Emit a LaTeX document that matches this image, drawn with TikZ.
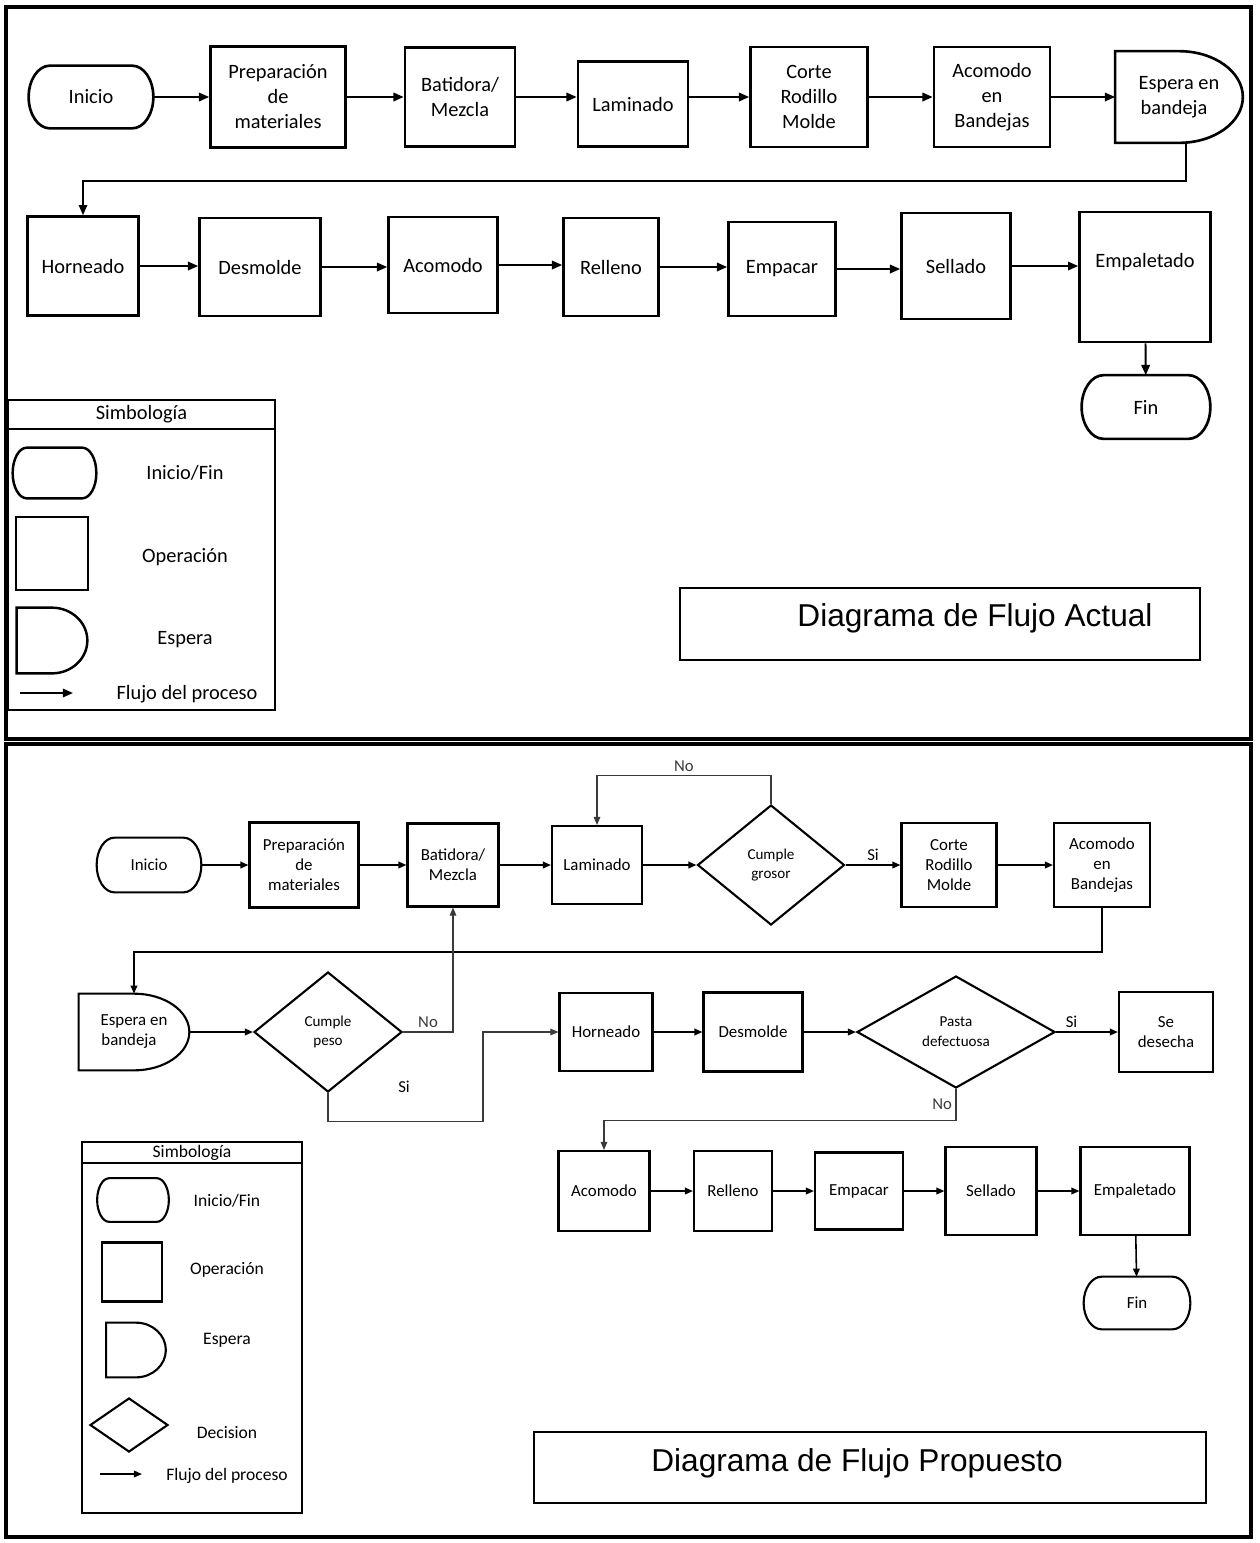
\documentclass[tikz,border=0pt]{standalone}
\usepackage{fontspec}
\setmainfont{Carlito}
\newfontfamily\arialf{Liberation Sans}
\usepackage{tikz}
\usetikzlibrary{arrows.meta,positioning,calc,shapes.geometric}
\definecolor{lnk}{HTML}{3A3A3A}

% terminator (Inicio/Fin) drawn round a plain node
\newcommand{\termshape}[2][]{%
  \draw[#1] (#2.west)
    .. controls ($(#2.west)!0.552!(#2.north west)$) and ($(#2.north west)!0.076!(#2.north east)$) .. ($(#2.north west)!0.17!(#2.north east)$)
    -- ($(#2.north west)!0.83!(#2.north east)$)
    .. controls ($(#2.north west)!0.924!(#2.north east)$) and ($(#2.east)!0.552!(#2.north east)$) .. (#2.east)
    .. controls ($(#2.east)!0.552!(#2.south east)$) and ($(#2.south west)!0.924!(#2.south east)$) .. ($(#2.south west)!0.83!(#2.south east)$)
    -- ($(#2.south west)!0.17!(#2.south east)$)
    .. controls ($(#2.south west)!0.076!(#2.south east)$) and ($(#2.west)!0.552!(#2.south west)$) .. (#2.west) -- cycle;}
% espera (D shape)
\newcommand{\dshape}[2][]{%
  \draw[#1] (#2.north west) -- (#2.north)
    .. controls ($(#2.north)!0.552!(#2.north east)$) and ($(#2.east)!0.552!(#2.north east)$) .. (#2.east)
    .. controls ($(#2.east)!0.552!(#2.south east)$) and ($(#2.south)!0.552!(#2.south east)$) .. (#2.south)
    -- (#2.south west) -- cycle;}

\begin{document}
\begin{tikzpicture}[x=0.02cm, y=-0.02cm,
  sz/.style 2 args={minimum width=#1*0.02cm, minimum height=#2*0.02cm},
  opA/.style={draw, line width=1.5pt, inner sep=0pt, align=center,
    font=\fontsize{11.6}{14.2}\selectfont},
  shpA/.style={rectangle, inner sep=0pt, align=center, font=\fontsize{11.6}{14.2}\selectfont},
  opB/.style={draw, line width=1.2pt, inner sep=0pt, align=center,
    font=\fontsize{9.6}{11.4}\selectfont},
  shpB/.style={rectangle, inner sep=0pt, align=center, font=\fontsize{9.6}{11.4}\selectfont},
  dec/.style={diamond, draw, line width=1.2pt, inner sep=0pt, align=center,
    font=\fontsize{8.6}{11.3}\selectfont},
  lbl/.style={font=\fontsize{9.5}{11}\selectfont, inner sep=2pt},
  txtA/.style={font=\fontsize{11.6}{14}\selectfont},
  txtB/.style={font=\fontsize{10}{12}\selectfont},
  ttl/.style={font=\arialf\fontsize{18}{21}\selectfont},
  outer/.style={line width=2.3pt},
  arA/.style={-{Triangle[length=5.8pt,width=4.8pt]}, line width=1.1pt},
  arB/.style={-{Triangle[length=4.6pt,width=3.8pt]}, line width=0.9pt},
  fb/.style={-{Triangle[length=4.6pt,width=3.8pt]}, line width=0.6pt, lnk}
]
\useasboundingbox (0,0) rectangle (1259,1543);

% ==================== DIAGRAMA ACTUAL ====================
\draw[outer] (6,7) rectangle (1251,739);

\node[shpA, sz={124}{62}] (ini1) at (91,97) {Inicio};
\termshape[line width=1.5pt]{ini1}
\node[opA, sz={135}{101}] (prep1) at (278,97) {Preparación\\de\\materiales};
\node[opA, sz={110}{99}] (bat1) at (460,97) {Batidora/\\Mezcla};
\node[opA, sz={110}{85}] (lam1) at (633,104) {Laminado};
\node[opA, sz={117}{100}] (cort1) at (809,97) {Corte\\Rodillo\\Molde};
\node[opA, sz={116}{100}] (acob1) at (992,97) {Acomodo\\en\\Bandejas};
\node[shpA, sz={127}{91}] (esp1) at (1179,97) {Espera en\\bandeja\hspace*{0.2cm}};
\dshape[line width=1.5pt]{esp1}

\draw[arA] (ini1) -- (prep1);
\draw[arA] (prep1) -- (bat1);
\draw[arA] (bat1.east) -- (bat1.east -| lam1.west);
\draw[arA] (lam1.east |- cort1) -- (cort1.west);
\draw[arA] (cort1) -- (acob1);
\draw[arA] (acob1) -- (esp1);

\node[opA, sz={111}{99}] (horn1) at (83,266) {Horneado};
\node[opA, sz={121}{98}] (desm1) at (260,267) {Desmolde};
\node[opA, sz={109}{96}] (acom1) at (443,265) {Acomodo};
\node[opA, sz={95}{98}] (rell1) at (611,267) {Relleno};
\node[opA, sz={107}{94}] (empc1) at (782,269) {Empacar};
\node[opA, sz={109}{106}] (sell1) at (956,266) {Sellado};
\node[opA, sz={131}{130}] (empl1) at (1145,277) {Empaletado\\\strut};
\node[shpA, sz={128}{63}] (fin1) at (1146,407) {Fin};
\termshape[line width=1.5pt]{fin1}

\draw[arA, line width=0.9pt] ([xshift=0.14cm]esp1.south) -- ++(0,38) -| (horn1.north);
\draw[arA] (horn1.east) -- (horn1.east -| desm1.west);
\draw[arA] (desm1.east) -- (desm1.east -| acom1.west);
\draw[arA] (acom1.east) -- (acom1.east -| rell1.west);
\draw[arA] (rell1.east) -- (rell1.east -| empc1.west);
\draw[arA] (empc1.east) -- (empc1.east -| sell1.west);
\draw[arA] (sell1.east) -- (sell1.east -| empl1.west);
\draw[arA] (empl1) -- (fin1);

% simbologia
\node[draw, line width=1.4pt, inner sep=0pt, sz={267}{29}, txtA] (lghead1) at (141.5,414.5) {Simbología};
\node[draw, line width=1.4pt, sz={267}{281}] (lgbody1) at (141.5,569.5) {};
\node[shpA, sz={83}{50}] (lgterm1) at (54.5,473) {};
\termshape[line width=1.4pt]{lgterm1}
\node[txtA] (lgterm1txt) at (185,473) {Inicio/Fin};
\node[draw, line width=1.4pt, sz={72}{73}] (lgop1) at (52,553.5) {};
\node[txtA] (lgop1txt) at (185,557) {Operación};
\node[shpA, sz={70}{65}] (lgesp1) at (52,640.5) {};
\dshape[line width=1.4pt]{lgesp1}
\node[txtA] (lgesp1txt) at (185,640) {Espera};
\coordinate (lgar1a) at (20,693);
\coordinate (lgar1b) at (73,693);
\draw[arA] (lgar1a) -- (lgar1b);
\node[txtA] (lgar1txt) at (187,694) {Flujo del proceso};

\node[draw, line width=0.9pt, sz={520}{72}] (tit1) at (940,624) {};
\node[ttl] (tit1txt) at (975,618) {Diagrama de Flujo Actual};

% ==================== DIAGRAMA PROPUESTO ====================
\draw[outer] (6,744) rectangle (1251,1537);

\node[shpB, sz={104}{54}] (ini2) at (149,865) {Inicio};
\termshape[line width=1.2pt]{ini2}
\node[opB, sz={109}{85}] (prep2) at (304,865) {Preparación\\de\\materiales};
\node[opB, sz={91}{83}] (bat2) at (453,865) {Batidora/\\Mezcla};
\node[opB, sz={90}{78}] (lam2) at (597,865) {Laminado};
\node[dec, sz={147}{120}] (dgros) at (771,865) {Cumple\\grosor};
\node[opB, sz={95}{84}] (cort2) at (949,865) {Corte\\Rodillo\\Molde};
\node[opB, sz={96}{84}] (acob2) at (1102,865) {Acomodo\\en\\Bandejas};

\node[shpB, sz={110}{76}] (esp2) at (134,1032) {Espera en\\bandeja\hspace*{0.2cm}};
\dshape[line width=1.2pt]{esp2}
\node[dec, sz={148}{120}] (dpeso) at (328,1032) {Cumple\\peso};
\node[opB, sz={93}{78}] (horn2) at (606,1032) {Horneado};
\node[opB, sz={99}{79}] (desm2) at (753,1032) {Desmolde};
\node[dec, sz={198}{112}] (dpasta) at (956,1032) {Pasta\\defectuosa};
\node[opB, sz={94}{80}] (desec) at (1166,1032) {Se\\desecha};

\node[opB, sz={91}{80}] (acom2) at (604,1191) {Acomodo};
\node[opB, sz={78}{80}] (rell2) at (733,1191) {Relleno};
\node[opB, sz={88}{77}] (empc2) at (859,1191) {Empacar};
\node[opB, sz={91}{88}] (sell2) at (991,1191) {Sellado};
\node[opB, sz={109}{88}] (empl2) at (1135,1191) {Empaletado};
\node[shpB, sz={106}{52}] (fin2) at (1137,1303) {Fin};
\termshape[line width=1.2pt]{fin2}

\draw[arB] (ini2) -- (prep2);
\draw[arB] (prep2) -- (bat2);
\draw[arB] (bat2) -- (lam2);
\draw[arB] (lam2) -- (dgros);
\draw[arB] (dgros) -- node[lbl, above] {Si} (cort2);
\draw[arB] (cort2) -- (acob2);
\draw[fb] (dgros.north) -- ++(0,-28) -| node[lbl, pos=0.25, above] {No} (lam2.north);
\draw[arB] (acob2.south) -- ++(0,44) -| (esp2.north);

\draw[arB] (esp2) -- (dpeso);
\draw[fb] (dpeso.east) -| node[lbl, pos=0.25, above] {No} (bat2.south);
\draw[fb] (dpeso.south) -- ++(0,28) -- ++(155,0) |- (horn2.west);
\node[lbl] (sipeso) at (404,1087) {Si};
\draw[arB] (horn2) -- (desm2);
\draw[arB] (desm2) -- (dpasta);
\draw[arB] (dpasta) -- node[lbl, pos=0.25, above] {Si} (desec);
\draw[fb] (dpasta.south) -- node[lbl, left] {No} ++(0,31) -| (acom2.north);

\draw[arB] (acom2) -- (rell2);
\draw[arB] (rell2) -- (empc2);
\draw[arB] (empc2) -- (sell2);
\draw[arB] (sell2) -- (empl2);
\draw[arB] (empl2) -- (fin2);

% simbologia
\node[draw, line width=1.2pt, inner sep=0pt, sz={220}{21}, txtB] (lghead2) at (192,1152.5) {Simbología};
\node[draw, line width=1.2pt, sz={220}{350}] (lgbody2) at (192,1338) {};
\node[shpB, sz={71}{43}] (lgterm2) at (133,1200) {};
\termshape[line width=1.2pt]{lgterm2}
\node[txtB] (lgterm2txt) at (227,1201) {Inicio/Fin};
\node[draw, line width=1.2pt, sz={60}{59}] (lgop2) at (132,1272) {};
\node[txtB] (lgop2txt) at (227,1270) {Operación};
\node[shpB, sz={59}{54}] (lgesp2) at (136,1350) {};
\dshape[line width=1.2pt]{lgesp2}
\node[txtB] (lgesp2txt) at (227,1340) {Espera};
\node[dec, sz={78}{54}] (lgdec2) at (129,1425) {};
\node[txtB] (lgdec2txt) at (227,1433) {Decision};
\coordinate (lgar2a) at (100,1474);
\coordinate (lgar2b) at (142,1474);
\draw[arB] (lgar2a) -- (lgar2b);
\node[txtB] (lgar2txt) at (227,1476) {Flujo del proceso};

\node[draw, line width=0.9pt, sz={672}{71}] (tit2) at (870,1467.5) {};
\node[ttl] (tit2txt) at (857,1463) {Diagrama de Flujo Propuesto};

\end{tikzpicture}
\end{document}
